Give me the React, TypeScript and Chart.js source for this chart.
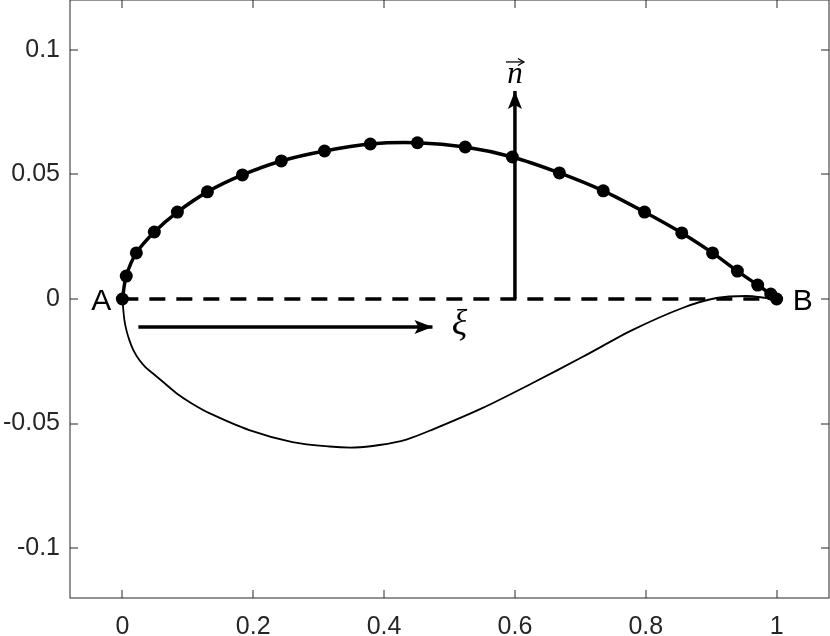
import React, { useEffect, useRef } from 'react';
import { Chart, registerables } from 'chart.js';

Chart.register(...registerables);

// Upper surface (thick line with markers)
const upperX = [0, 0.006, 0.0214, 0.0489, 0.0841, 0.130, 0.1835, 0.243, 0.309, 0.379, 0.451, 0.524, 0.596, 0.668, 0.735, 0.798, 0.855, 0.902, 0.940, 0.971, 0.991, 1.0];
const upperY = [0, 0.0092, 0.0185, 0.0269, 0.0349, 0.0430, 0.0498, 0.0554, 0.0594, 0.0622, 0.0627, 0.0610, 0.0570, 0.0506, 0.0434, 0.0349, 0.0265, 0.0185, 0.0112, 0.0056, 0.0020, 0];

// Lower thin curve
const lowerX = [0, 0.0015, 0.0031, 0.0061, 0.0107, 0.0168, 0.026, 0.0352, 0.0459, 0.0642, 0.0826, 0.1055, 0.133, 0.194, 0.260, 0.3165, 0.3547, 0.393, 0.434, 0.474, 0.550, 0.627, 0.703, 0.780, 0.856, 0.908, 0.954, 0.985, 1.0];
const lowerY = [0, -0.0044, -0.0084, -0.0124, -0.0165, -0.0205, -0.0245, -0.0273, -0.0297, -0.0337, -0.0378, -0.0418, -0.0458, -0.0526, -0.0574, -0.0592, -0.0596, -0.0586, -0.0564, -0.0524, -0.0438, -0.0337, -0.0233, -0.0124, -0.0036, 0.0004, 0.0012, 0.0004, 0];

// Chord A-B (dashed)
const chordX = [0, 1];
const chordY = [0, 0];

// Normal vector arrow
const normalX = [0.6, 0.6];
const normalY = [0, 0.0835];

// xi arrow
const xiX = [0.0245, 0.474];
const xiY = [-0.0112, -0.0112];

const xTicks = [0, 0.2, 0.4, 0.6, 0.8, 1];
const xTickLabels = ['0', '0.2', '0.4', '0.6', '0.8', '1'];
const yTicks = [-0.1, -0.05, 0, 0.05, 0.1];
const yTickLabels = ['-0.1', '-0.05', '0', '0.05', '0.1'];

const endLabels = ['A', 'B'];
const normalLabel = 'n';
const xiLabel = 'ξ';

const toPts = (xs: number[], ys: number[]) => xs.map((x, i) => ({ x, y: ys[i] }));

const zeroPad = (s: any) => {
  s.paddingTop = 0;
  s.paddingBottom = 0;
  s.paddingLeft = 0;
  s.paddingRight = 0;
};

const decorPlugin = {
  id: 'decor',
  afterDatasetsDraw(chart: any) {
    const { ctx, scales } = chart;
    const xs = scales.x;
    const ys = scales.y;
    const head = (x0: number, y0: number, x1: number, y1: number) => {
      const ang = Math.atan2(y1 - y0, x1 - x0);
      const L = 18, W = 7, N = 14;
      ctx.save();
      ctx.translate(x1, y1);
      ctx.rotate(ang);
      ctx.beginPath();
      ctx.moveTo(0, 0);
      ctx.lineTo(-L, W);
      ctx.lineTo(-N, 0);
      ctx.lineTo(-L, -W);
      ctx.closePath();
      ctx.fillStyle = '#000';
      ctx.fill();
      ctx.restore();
    };
    const nx0 = xs.getPixelForValue(normalX[0]);
    const ny0 = ys.getPixelForValue(normalY[0]);
    const nx1 = xs.getPixelForValue(normalX[1]);
    const ny1 = ys.getPixelForValue(normalY[1]);
    head(nx0, ny0, nx1, ny1);
    const ax0 = xs.getPixelForValue(xiX[0]);
    const ay0 = ys.getPixelForValue(xiY[0]);
    const ax1 = xs.getPixelForValue(xiX[1]);
    const ay1 = ys.getPixelForValue(xiY[1]);
    head(ax0, ay0, ax1, ay1);

    ctx.save();
    ctx.fillStyle = '#000';
    // A and B
    ctx.font = '30px "Liberation Sans", Arial, sans-serif';
    ctx.textAlign = 'center';
    ctx.textBaseline = 'alphabetic';
    const pA = { x: xs.getPixelForValue(chordX[0]), y: ys.getPixelForValue(chordY[0]) };
    const pB = { x: xs.getPixelForValue(chordX[1]), y: ys.getPixelForValue(chordY[1]) };
    ctx.fillText(endLabels[0], pA.x - 21, pA.y + 11);
    ctx.fillText(endLabels[1], pB.x + 26, pB.y + 11);

    // n with vector arrow
    ctx.font = 'italic 31px "Liberation Serif", "DejaVu Serif", serif';
    ctx.textAlign = 'center';
    ctx.fillText(normalLabel, nx1, ny1 - 8);
    ctx.strokeStyle = '#000';
    ctx.lineWidth = 1.3;
    ctx.beginPath();
    ctx.moveTo(nx1 - 9, ny1 - 29);
    ctx.lineTo(nx1 + 8, ny1 - 29);
    ctx.stroke();
    ctx.beginPath();
    ctx.moveTo(nx1 + 3, ny1 - 32.5);
    ctx.lineTo(nx1 + 9, ny1 - 29);
    ctx.lineTo(nx1 + 3, ny1 - 25.5);
    ctx.stroke();

    // xi
    ctx.font = 'italic 36px "Liberation Serif", "DejaVu Serif", serif';
    ctx.textAlign = 'center';
    ctx.textBaseline = 'middle';
    ctx.fillText(xiLabel, ax1 + 27, ay1 - 2);
    ctx.restore();
  },
  afterDraw(chart: any) {
    const { ctx, chartArea: a, scales } = chart;
    const xs = scales.x;
    const ys = scales.y;
    ctx.save();
    ctx.strokeStyle = '#262626';
    ctx.lineWidth = 1;
    ctx.strokeRect(a.left, a.top, a.right - a.left, a.bottom - a.top);
    const tl = 8;
    ctx.beginPath();
    xTicks.forEach((v) => {
      const px = Math.round(xs.getPixelForValue(v));
      ctx.moveTo(px, a.bottom);
      ctx.lineTo(px, a.bottom - tl);
      ctx.moveTo(px, a.top);
      ctx.lineTo(px, a.top + tl);
    });
    yTicks.forEach((v) => {
      const py = Math.round(ys.getPixelForValue(v));
      ctx.moveTo(a.left, py);
      ctx.lineTo(a.left + tl, py);
      ctx.moveTo(a.right, py);
      ctx.lineTo(a.right - tl, py);
    });
    ctx.stroke();
    ctx.restore();
  },
};

export default function App() {
  const ref = useRef<HTMLCanvasElement | null>(null);
  useEffect(() => {
    if (!ref.current) return;
    const chart = new Chart(ref.current, {
      type: 'scatter',
      data: {
        datasets: [
          {
            data: toPts(upperX, upperY),
            showLine: true,
            borderColor: '#000',
            backgroundColor: '#000',
            borderWidth: 3.5,
            pointRadius: 6.5,
            pointBorderWidth: 0,
            pointBackgroundColor: '#000',
            tension: 0.3,
          },
          {
            data: toPts(normalX, normalY),
            showLine: true,
            borderColor: '#000',
            borderWidth: 3.5,
            pointRadius: 0,
          },
          {
            data: toPts(xiX, xiY),
            showLine: true,
            borderColor: '#000',
            borderWidth: 3.5,
            pointRadius: 0,
          },
          {
            data: toPts(chordX, chordY),
            showLine: true,
            borderColor: '#000',
            borderWidth: 3.5,
            borderDash: [16, 11],
            pointRadius: 0,
          },
          {
            data: toPts(lowerX, lowerY),
            showLine: true,
            borderColor: '#000',
            borderWidth: 1.8,
            pointRadius: 0,
            tension: 0.3,
          },
        ],
      },
      options: {
        animation: false,
        responsive: false,
        devicePixelRatio: 1,
        layout: { autoPadding: false, padding: { top: 0, right: 1, left: 0, bottom: 0 } },
        plugins: { legend: { display: false }, tooltip: { enabled: false } },
        scales: {
          x: {
            type: 'linear',
            min: -0.08,
            max: 1.08,
            grid: { display: false, drawTicks: false },
            border: { display: false },
            afterBuildTicks: (s: any) => {
              s.ticks = xTicks.map((v) => ({ value: v }));
            },
            afterFit: (s: any) => {
              s.height = 38;
              zeroPad(s);
            },
            ticks: {
              padding: 14,
              color: '#262626',
              font: { family: '"Liberation Sans", Arial, sans-serif', size: 25 },
              maxRotation: 0,
              callback: (v: any) => {
                const i = xTicks.findIndex((t) => Math.abs(t - v) < 1e-9);
                return i >= 0 ? xTickLabels[i] : '';
              },
            },
          },
          y: {
            type: 'linear',
            min: -0.12,
            max: 0.12,
            grid: { display: false, drawTicks: false },
            border: { display: false },
            afterBuildTicks: (s: any) => {
              s.ticks = yTicks.map((v) => ({ value: v }));
            },
            afterFit: (s: any) => {
              s.width = 70;
              zeroPad(s);
            },
            ticks: {
              padding: 10,
              color: '#262626',
              font: { family: '"Liberation Sans", Arial, sans-serif', size: 25 },
              callback: (v: any) => {
                const i = yTicks.findIndex((t) => Math.abs(t - v) < 1e-9);
                return i >= 0 ? yTickLabels[i] : '';
              },
            },
          },
        },
      },
      plugins: [decorPlugin],
    });
    return () => chart.destroy();
  }, []);
  return (
    <div style={{ position: 'absolute', left: 0, top: 0, width: 830, height: 636, background: '#fff' }}>
      <canvas ref={ref} width={830} height={636} style={{ display: 'block' }} />
    </div>
  );
}
